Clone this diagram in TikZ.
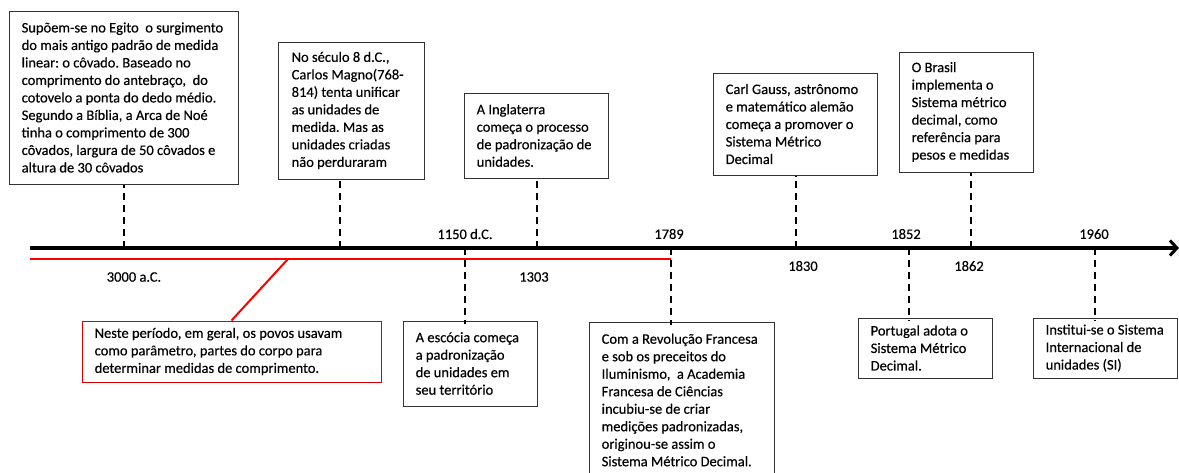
\documentclass[tikz,border=0pt]{standalone}
\usepackage{fontspec}
\setmainfont{Carlito}
\newfontfamily\boxfont{Carlito}[FakeBold=0.35]
\frenchspacing
\usetikzlibrary{arrows.meta}
\begin{document}
\begin{tikzpicture}[x=1pt,y=-1pt,
  box/.style={draw=black!80, line width=1pt, inner sep=0pt},
  redbox/.style={draw=red!85!black, line width=1pt, inner sep=0pt},
  txt/.style={align=left, inner sep=0pt, font=\boxfont\fontsize{14.5}{17.5}\selectfont, text=black},
  lbl/.style={inner sep=0pt, font=\boxfont\fontsize{14.5}{17.5}\selectfont, text=black},
  axisline/.style={line width=3.6pt, -{Straight Barb[length=7pt,width=15pt,line width=3pt]}},
  redline/.style={draw=red, line width=2.6pt},
  tick/.style={line width=1.8pt, dash pattern=on 7pt off 5pt}
]
\useasboundingbox (0,0) rectangle (1179,472);
\clip (0,0) rectangle (1179,472);

% axis
\coordinate (axL) at (30,248);
\coordinate (axR) at (1179,248);
\draw[axisline] (axL) -- (axR);
\coordinate (rL) at (30,259);
\coordinate (rR) at (671,259);
\draw[redline] (rL) -- (rR);

% boxes above
\node[box, minimum width=229pt, minimum height=173pt] (egypt) at (123.5,97.5) {};
\node[txt, anchor=west] (egyptT) at ([xshift=13pt]egypt.west) {Supõem-se no Egito\ \ o surgimento\\do mais antigo padrão de medida\\linear: o côvado. Baseado no\\comprimento do antebraço,\ \ do\\cotovelo a ponta do dedo médio.\\Segundo a Bíblia, a Arca de Noé\\tinha o comprimento de 300\\côvados, largura de 50 côvados e\\altura de 30 côvados};

\node[box, minimum width=146pt, minimum height=137pt] (carlos) at (351,110.5) {};
\node[txt, anchor=west] (carlosT) at ([xshift=14pt]carlos.west) {No século 8 d.C.,\\Carlos Magno(768-\\814) tenta unificar\\as unidades de\\medida. Mas as\\unidades criadas\\não perduraram};

\node[box, minimum width=144pt, minimum height=85pt] (ingl) at (536,135.5) {};
\node[txt, anchor=west] (inglT) at ([xshift=13pt]ingl.west) {A Inglaterra\\começa o processo\\de padronização de\\unidades.};

\node[box, minimum width=164pt, minimum height=102pt] (gauss) at (795,124) {};
\node[txt, anchor=west] (gaussT) at ([xshift=13pt]gauss.west) {Carl Gauss, astrônomo\\e matemático alemão\\começa a promover o\\Sistema Métrico\\Decimal};

\node[box, minimum width=134pt, minimum height=120pt] (brasil) at (966,112) {};
\node[txt, anchor=west] (brasilT) at ([xshift=13pt]brasil.west) {O Brasil\\implementa o\\Sistema métrico\\decimal, como\\referência para\\pesos e medidas};

% boxes below
\node[redbox, minimum width=299pt, minimum height=61pt] (red) at (231.5,351.5) {};
\node[txt, anchor=west] (redT) at ([xshift=13pt]red.west) {Neste período, em geral, os povos usavam\\como parâmetro, partes do corpo para\\determinar medidas de comprimento.};

\node[box, minimum width=134pt, minimum height=85pt] (scot) at (470,363.5) {};
\node[txt, anchor=west] (scotT) at ([xshift=13pt]scot.west) {A escócia começa\\a padronização\\de unidades em\\seu território};

\node[box, minimum width=185pt, minimum height=156pt] (french) at (681.5,400) {};
\node[txt, anchor=west] (frenchT) at ([xshift=13pt]french.west) {Com a Revolução Francesa\\e sob os preceitos do\\Iluminismo,\ \ a Academia\\Francesa de Ciências\\incubiu-se de criar\\medições padronizadas,\\originou-se assim o\\Sistema Métrico Decimal.};

\node[box, minimum width=134pt, minimum height=60pt] (port) at (925,348) {};
\node[txt, anchor=west] (portT) at ([xshift=13pt]port.west) {Portugal adota o\\Sistema Métrico\\Decimal.};

\node[box, minimum width=144pt, minimum height=60pt] (si) at (1105,348) {};
\node[txt, anchor=west] (siT) at ([xshift=13pt]si.west) {Institui-se o Sistema\\Internacional de\\unidades (SI)};

% red connector
\coordinate (rp) at (288,259);
\draw[red, line width=2pt] (rp) -- (red.north);

% dashed ticks
\coordinate (t1) at (124,248);
\coordinate (t2) at (340,248);
\coordinate (t3) at (537,248);
\coordinate (t4) at (796,248);
\coordinate (t5) at (971,248);
\coordinate (b1) at (465,248);
\coordinate (b2) at (671,248);
\coordinate (b3) at (909,248);
\coordinate (b4) at (1095,248);
\draw[tick] (t1) -- (t1 |- egypt.south);
\draw[tick] (t2) -- (t2 |- carlos.south);
\draw[tick] (t3) -- (t3 |- ingl.south);
\draw[tick] (t4) -- (t4 |- gauss.south);
\draw[tick] (t5) -- (t5 |- brasil.south);
\draw[tick] (b1) -- ([yshift=-3pt]b1 |- scot.north);
\draw[tick] (b2) -- ([yshift=-3pt]b2 |- french.north);
\draw[tick] (b3) -- ([yshift=-3pt]b3 |- port.north);
\draw[tick] (b4) -- ([yshift=-3pt]b4 |- si.north);

% year labels
\node[lbl] (l3000) at (134,277) {3000 a.C.};
\node[lbl] (l1150) at (465,234) {1150 d.C.};
\node[lbl] (l1303) at (534,277) {1303};
\node[lbl] (l1789) at (669,234) {1789};
\node[lbl] (l1830) at (803,266) {1830};
\node[lbl] (l1852) at (906,234) {1852};
\node[lbl] (l1862) at (969,266) {1862};
\node[lbl] (l1960) at (1094,234) {1960};
\end{tikzpicture}
\end{document}
